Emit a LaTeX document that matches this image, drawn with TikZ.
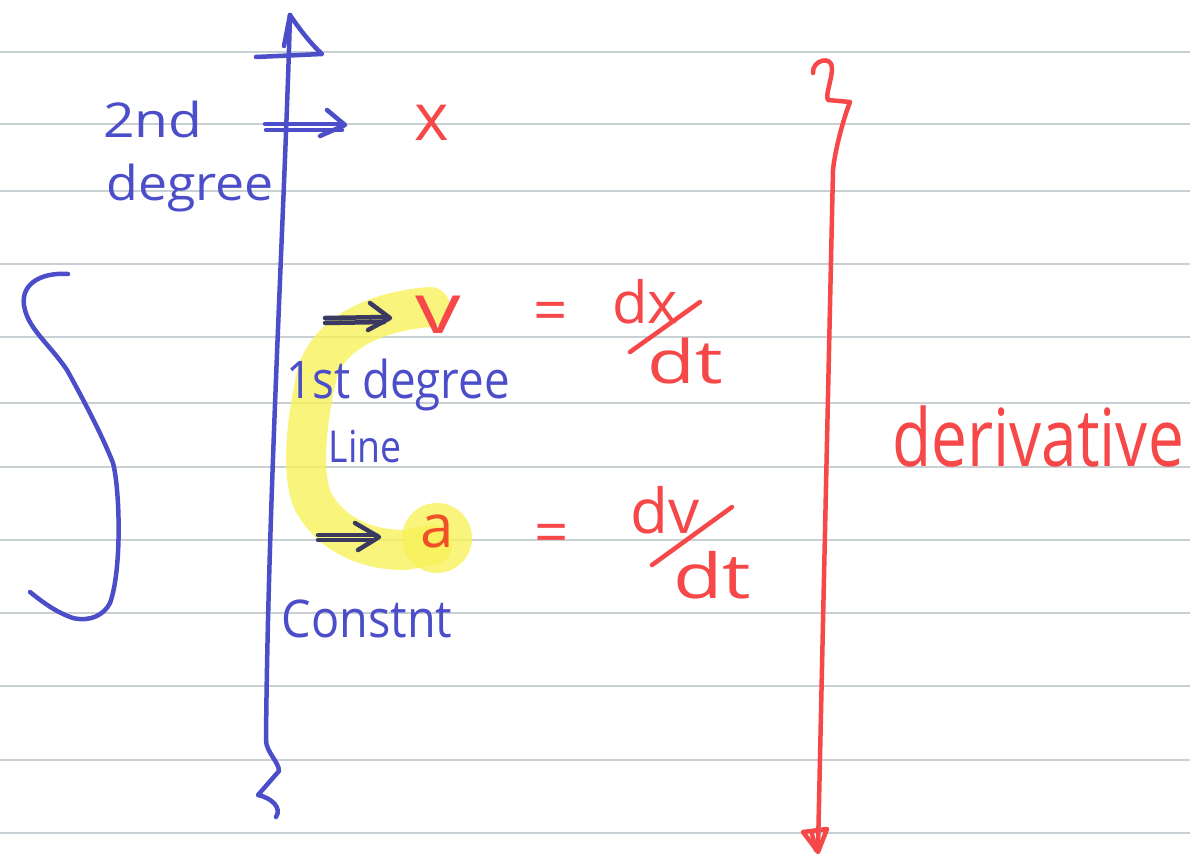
\documentclass[tikz,border=0pt]{standalone}
\usepackage{fontspec}
\setmainfont{Open Sans}
\usepackage{graphicx}
\definecolor{pen}{RGB}{75,78,200}
\definecolor{darkpen}{RGB}{58,58,96}
\definecolor{ink}{RGB}{246,72,72}
\definecolor{inkhl}{RGB}{240,80,40}
\definecolor{hl}{RGB}{248,242,90}
\definecolor{ruling}{RGB}{200,208,212}
\newcommand\hwsize[1]{\fontsize{#1}{#1}\selectfont}
\tikzset{
  bluepen/.style={draw=pen, line width=4.5pt, line cap=round, line join=round},
  darkarrow/.style={draw=darkpen, line width=4.5pt, line cap=round, line join=round},
  redpen/.style={draw=ink, line width=4.5pt, line cap=round, line join=round},
  bluetxt/.style={text=pen, inner sep=0pt, anchor=base},
  redtxt/.style={text=ink, inner sep=0pt, anchor=base},
  hilite/.style={draw=hl, line width=40pt, line cap=round, line join=round, draw opacity=0.8},
}
\begin{document}
\begin{tikzpicture}[x=1pt,y=-1pt]
\useasboundingbox (0,0) rectangle (1190,854);
\fill[white] (0,0) rectangle (1190,854);
\foreach \yy in {52,124,191,264,337,403,467,540,613,686,760,833}
  \draw[ruling, line width=2pt] (0,\yy) -- (1190,\yy);

% highlighter (under the ink)
\draw[hilite] (430,307) .. controls (390,310) and (335,325) .. (318,370)
  .. controls (306,420) and (300,480) .. (315,505)
  .. controls (330,530) and (360,550) .. (405,550) -- (432,545);
\fill[hl, fill opacity=0.8] (437,538) circle (35);

% big integral-like bracket
\draw[bluepen] (68,274) .. controls (40,272) and (18,285) .. (25,310)
  .. controls (30,330) and (50,345) .. (67,370)
  .. controls (78,390) and (100,430) .. (113,463)
  .. controls (120,490) and (122,570) .. (110,603)
  .. controls (104,615) and (90,622) .. (73,618)
  .. controls (55,612) and (40,600) .. (30,592);

% blue vertical axis
\coordinate (axtop) at (290,15);
\coordinate (axbot) at (266,740);
\draw[bluepen] (axtop) .. controls (285,200) and (268,500) .. (axbot)
  .. controls (266,752) and (279,762) .. (279,771) -- (258,795)
  .. controls (272,798) and (282,808) .. (276,817);
\draw[bluepen] (axtop) .. controls (300,30) and (312,45) .. (322,54) -- (256,57);
\draw[bluepen] (axtop) -- (284,46);

% red vertical line
\coordinate (rtop) at (813,73);
\coordinate (rbot) at (818,848);
\draw[redpen] (rtop) .. controls (812,60) and (832,55) .. (832,68)
  .. controls (832,80) and (825,95) .. (828,100) -- (850,102)
  .. controls (843,120) and (835,150) .. (833,170) -- (rbot);
\draw[redpen] (803,832) -- (827,829) -- (818,852) -- cycle;
\draw[redpen] (812,834) -- (816,850);

% texts
\node[bluetxt] (t2nd) at (153,137) {\hwsize{48}\scalebox{1.15}[1]{2nd}};
\node[bluetxt] (tdeg) at (190,200) {\hwsize{48}\scalebox{1.08}[1]{degree}};
\node[redtxt] (tx) at (432,140) {\hwsize{66}x};
\node[redtxt] (tv) at (438,333) {\hwsize{70}\scalebox{1.3}[1]{v}};
\node[redtxt] (teq1) at (551,331) {\hwsize{60}=};
\node[redtxt] (tdx) at (645,323) {\hwsize{58}dx};
\node[redtxt] (tdt1) at (685,383) {\hwsize{60}\scalebox{1.3}[1]{dt}};
\node[redtxt, text=inkhl] (ta) at (437,547) {\hwsize{60}a};
\node[redtxt] (teq2) at (552,553) {\hwsize{60}=};
\node[redtxt] (tdv) at (665,533) {\hwsize{62}dv};
\node[redtxt] (tdt2) at (712,598) {\hwsize{62}\scalebox{1.3}[1]{dt}};
\node[bluetxt] (t1st) at (398,398) {\hwsize{52}\scalebox{0.88}[1]{1st degree}};
\node[bluetxt] (tline) at (365,462) {\hwsize{44}\scalebox{0.85}[1]{Line}};
\node[bluetxt] (tconst) at (367,637) {\hwsize{52}\scalebox{0.9}[1]{Constnt}};
\node[redtxt] (tderiv) at (1038,466) {\hwsize{80}\scalebox{0.8}[1]{derivative}};

% fraction slashes
\draw[redpen] (630,352) -- (700,302);
\draw[redpen] (652,565) -- (732,507);

% double arrows
\coordinate (a1s) at (265,124); \coordinate (a1e) at (345,125);
\draw[bluepen] (a1s) -- (342,124) (266,130) -- (342,130);
\draw[bluepen] (327,110) -- (a1e) -- (320,136);
\coordinate (a2s) at (325,318); \coordinate (a2e) at (390,318);
\draw[darkarrow] (a2s) -- (386,317) (325,323) -- (384,322);
\draw[darkarrow] (370,303) -- (a2e) -- (368,330);
\coordinate (a3s) at (318,535); \coordinate (a3e) at (379,537);
\draw[darkarrow] (a3s) -- (376,535) (318,540) -- (374,540);
\draw[darkarrow] (355,523) -- (a3e) -- (358,550);
\end{tikzpicture}
\end{document}
